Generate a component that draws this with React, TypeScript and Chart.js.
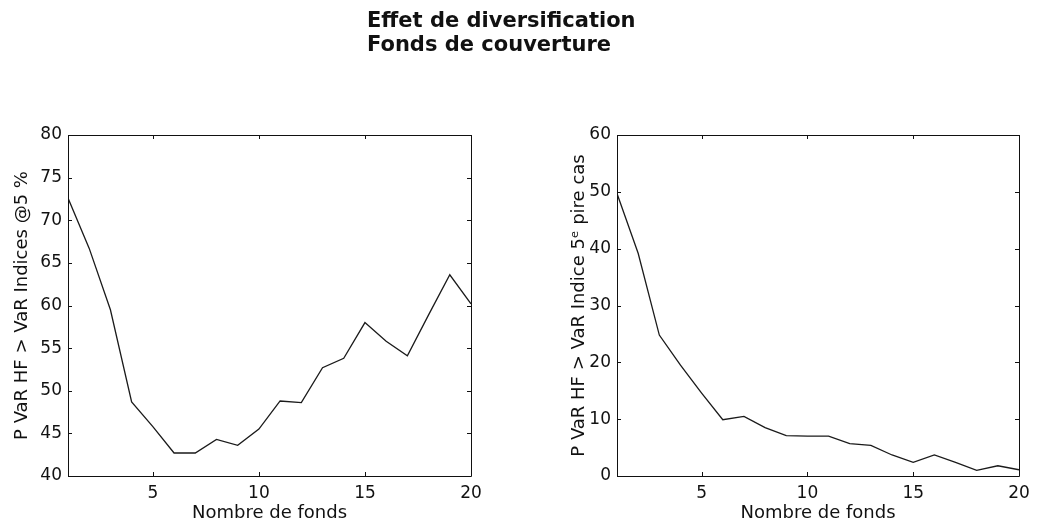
import React, { useEffect, useRef } from "react";
import { Chart, registerables } from "chart.js";

Chart.register(...registerables);

const titleLines = ["Effet de diversification", "Fonds de couverture"];
const nbFonds = [1, 2, 3, 4, 5, 6, 7, 8, 9, 10, 11, 12, 13, 14, 15, 16, 17, 18, 19, 20];
const probaIndices = [72.6, 66.7, 59.5, 48.7, 45.8, 42.7, 42.7, 44.3, 43.6, 45.5, 48.8, 48.6, 52.7, 53.8, 58.0, 55.8, 54.1, 58.9, 63.6, 60.2];
const probaPireCas = [49.7, 39.2, 24.8, 19.5, 14.6, 9.9, 10.5, 8.5, 7.1, 7.0, 7.0, 5.7, 5.4, 3.7, 2.4, 3.7, 2.4, 1.0, 1.8, 1.1];
const xTickValues = [5, 10, 15, 20];
const leftYTicks = [40, 45, 50, 55, 60, 65, 70, 75, 80];
const rightYTicks = [0, 10, 20, 30, 40, 50, 60];
const xTitle = "Nombre de fonds";
const leftYTitle = "P VaR HF > VaR Indices @5 %";
const rightYTitle = "P VaR HF > VaR Indice 5\u1D49 pire cas";

const FONT = "'DejaVu Sans', sans-serif";

const boxPlugin = {
  id: "matlabBox",
  afterDraw(chart: any) {
    const { ctx, chartArea, scales } = chart;
    const { left, right, top, bottom } = chartArea;
    ctx.save();
    ctx.strokeStyle = "#111";
    ctx.lineWidth = 1;
    ctx.beginPath();
    ctx.rect(Math.round(left) + 0.5, Math.round(top) + 0.5, Math.round(right - left), Math.round(bottom - top));
    ctx.stroke();
    const tl = 4;
    ctx.beginPath();
    scales.x.ticks.forEach((t: any) => {
      const px = Math.round(scales.x.getPixelForValue(t.value)) + 0.5;
      ctx.moveTo(px, bottom);
      ctx.lineTo(px, bottom - tl);
      ctx.moveTo(px, top);
      ctx.lineTo(px, top + tl);
    });
    scales.y.ticks.forEach((t: any) => {
      const py = Math.round(scales.y.getPixelForValue(t.value)) + 0.5;
      ctx.moveTo(left, py);
      ctx.lineTo(left + tl, py);
      ctx.moveTo(right, py);
      ctx.lineTo(right - tl, py);
    });
    ctx.stroke();
    ctx.restore();
  },
};

function makeConfig(values: number[], yTicks: number[], yTitle: string, yWidth: number, padRight: number) {
  return {
    type: "line" as const,
    data: {
      datasets: [
        {
          data: nbFonds.map((x, i) => ({ x, y: values[i] })),
          borderColor: "#1a1a1a",
          borderWidth: 1.3,
          pointRadius: 0,
          tension: 0,
          fill: false,
        },
      ],
    },
    options: {
      responsive: false,
      animation: false,
      devicePixelRatio: 1,
      layout: { padding: { top: 135, right: padRight, left: 0, bottom: 0 } },
      plugins: { legend: { display: false }, tooltip: { enabled: false }, title: { display: false } },
      scales: {
        x: {
          type: "linear",
          min: 1,
          max: 20,
          afterBuildTicks: (s: any) => {
            s.ticks = xTickValues.map((v) => ({ value: v }));
          },
          afterFit: (s: any) => {
            s.height = 47;
          },
          grid: { display: false, drawTicks: false },
          border: { display: false },
          ticks: { color: "#111", font: { family: FONT, size: 17 }, padding: 7, maxRotation: 0, autoSkip: false },
          title: { display: true, text: xTitle, color: "#111", font: { family: FONT, size: 18 }, padding: { top: 0, bottom: -1 } },
        },
        y: {
          type: "linear",
          min: yTicks[0],
          max: yTicks[yTicks.length - 1],
          afterBuildTicks: (s: any) => {
            s.ticks = yTicks.map((v) => ({ value: v }));
          },
          afterFit: (s: any) => {
            s.width = yWidth;
          },
          grid: { display: false, drawTicks: false },
          border: { display: false },
          ticks: { color: "#111", font: { family: FONT, size: 17 }, padding: 6, autoSkip: false },
          title: { display: true, text: yTitle, color: "#111", font: { family: FONT, size: 18 }, padding: { top: 12, bottom: 0 } },
        },
      },
    },
    plugins: [boxPlugin],
  };
}

function ChartCanvas(props: { values: number[]; yTicks: number[]; yTitle: string; yWidth: number; padRight: number; left: number; width: number }) {
  const ref = useRef<HTMLCanvasElement | null>(null);
  useEffect(() => {
    if (!ref.current) return;
    const chart = new Chart(ref.current, makeConfig(props.values, props.yTicks, props.yTitle, props.yWidth, props.padRight) as any);
    return () => chart.destroy();
  }, []);
  return (
    <canvas
      ref={ref}
      width={props.width}
      height={523}
      style={{ position: "absolute", left: props.left, top: 0, width: props.width, height: 523 }}
    />
  );
}

export default function App() {
  return (
    <div style={{ position: "absolute", left: 0, top: 0, width: 1038, height: 523, background: "#fff", overflow: "hidden" }}>
      <ChartCanvas values={probaIndices} yTicks={leftYTicks} yTitle={leftYTitle} yWidth={68} padRight={49} left={0} width={520} />
      <ChartCanvas values={probaPireCas} yTicks={rightYTicks} yTitle={rightYTitle} yWidth={60} padRight={19} left={557} width={481} />
      <div
        style={{
          position: "absolute",
          left: 367,
          top: 8,
          fontFamily: FONT,
          fontWeight: "bold",
          fontSize: 21,
          lineHeight: "24px",
          color: "#111",
          whiteSpace: "pre",
        }}
      >
        {titleLines.map((t) => (
          <div key={t}>{t}</div>
        ))}
      </div>
    </div>
  );
}
